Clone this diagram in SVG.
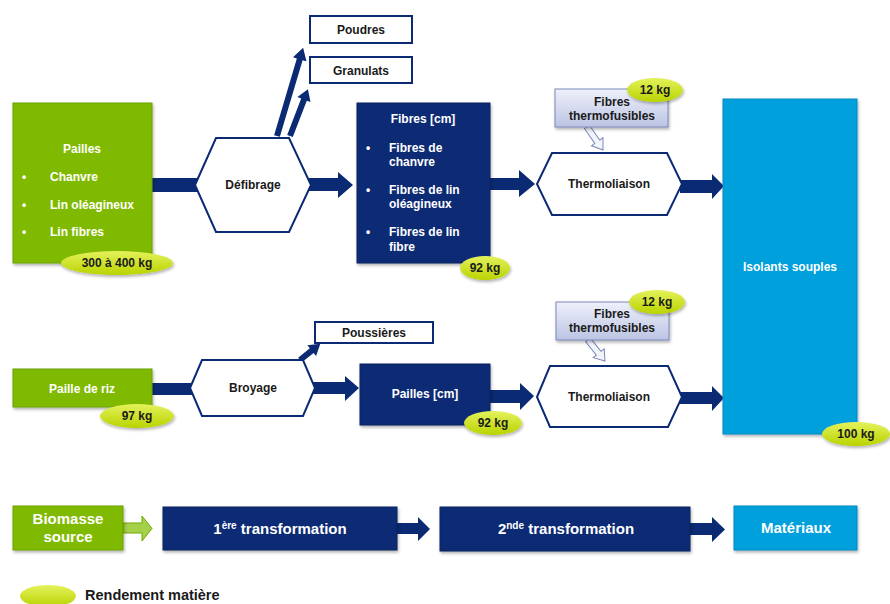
<svg xmlns="http://www.w3.org/2000/svg" width="890" height="604" viewBox="0 0 890 604">
<style>
text{font-family:"Liberation Sans",Arial,sans-serif;font-weight:bold}
.w{fill:#fff;font-size:12px}
.b{fill:#1a1a1a;font-size:12px}
.green{fill:#7fba00;stroke:#6aa000;stroke-width:1}
.navy{fill:#0b2a74;stroke:#08215e;stroke-width:1}
.sky{fill:#00a0dd;stroke:#0089c0;stroke-width:1}
.hex{fill:#fff;stroke:#0b2a74;stroke-width:2}
.out{fill:#fff;stroke:#0b2a74;stroke-width:2}
.arr{fill:#0b2a74}
.ell{fill:url(#eg)}
.tf{fill:url(#tg);stroke:#7b88b8;stroke-width:1}
.hol{fill:#f2f4fb;stroke:#7b88b8;stroke-width:1}
.big{font-size:15px}
</style>
<defs>
<linearGradient id="eg" x1="0" y1="0" x2="0" y2="1">
<stop offset="0" stop-color="#e4f25c"/>
<stop offset="1" stop-color="#b9d300"/>
</linearGradient>
<linearGradient id="tg" x1="0" y1="0" x2="0" y2="1">
<stop offset="0" stop-color="#eef0fa"/>
<stop offset="1" stop-color="#bcc4e4"/>
</linearGradient>
<filter id="sh" x="-10%" y="-10%" width="130%" height="140%">
<feDropShadow dx="1" dy="2" stdDeviation="1.5" flood-color="#000" flood-opacity="0.3"/>
</filter>
</defs>

<g id="connectors">
<rect class="arr" x="150" y="178" width="50" height="14"/>
<polygon class="arr" points="309,178 338,178 338,172 353,185 338,198 338,191 309,191"/>
<polygon class="arr" points="488,178 519,178 519,170 535,184 519,197 519,190 488,190"/>
<polygon class="arr" points="680,180 712,180 712,174 724,186 712,199 712,193 680,193"/>
<rect class="arr" x="150" y="383" width="45" height="12"/>
<polygon class="arr" points="313,382 345,382 345,376 359,388 345,401 345,394 313,394"/>
<polygon class="arr" points="488,390 520,390 520,383 534,396 520,410 520,403 488,403"/>
<polygon class="arr" points="680,392 712,392 712,386 724,398 712,411 712,404 680,404"/>
<g transform="translate(277,136) rotate(-73.5)"><polygon class="arr" points="0,-3 80,-3 80,-7 92,0 80,7 80,3 0,3"/></g>
<g transform="translate(290,136) rotate(-69)"><polygon class="arr" points="0,-3 39,-3 39,-7 50,0 39,7 39,3 0,3"/></g>
<g transform="translate(300,360) rotate(-38.7)"><polygon class="arr" points="0,-3 15,-3 15,-7 26,0 15,7 15,3 0,3"/></g>
<g transform="translate(587,127) rotate(55.2)"><polygon class="hol" points="0,-3 18,-3 18,-7 28,0 18,7 18,3 0,3"/></g>
<g transform="translate(588,340) rotate(51)"><polygon class="hol" points="0,-3 17,-3 17,-7 27,0 17,7 17,3 0,3"/></g>
<polygon fill="#a4d04a" stroke="#6fa800" stroke-width="1" points="123,523 142,523 142,516 152,528.5 142,541 142,533 123,533"/>
<polygon class="arr" points="396,523 418,523 418,517 430,529 418,541 418,534 396,534"/>
<polygon class="arr" points="689,523 712,523 712,517 725,529.5 712,542 712,535 689,535"/>
</g>

<g id="pailles">
<rect class="green" x="13" y="103" width="139" height="160" filter="url(#sh)"/>
<text class="w" x="82" y="153" text-anchor="middle">Pailles</text>
<text class="w" x="22" y="181">•</text><text class="w" x="50" y="181">Chanvre</text>
<text class="w" x="22" y="209">•</text><text class="w" x="50" y="209">Lin oléagineux</text>
<text class="w" x="22" y="236">•</text><text class="w" x="50" y="236">Lin fibres</text>
</g>
<g id="r300">
<ellipse class="ell" cx="117" cy="263" rx="56" ry="12" filter="url(#sh)"/>
<text class="b" x="117" y="267" text-anchor="middle">300 à 400 kg</text>
</g>

<g id="defibrage">
<polygon class="hex" points="195,185 216,138 289,138 311,185 289,232 216,232"/>
<text class="b" x="253" y="189" text-anchor="middle">Défibrage</text>
</g>
<g id="poudres">
<rect class="out" x="310" y="16" width="102" height="27"/>
<text class="b" x="361" y="34" text-anchor="middle">Poudres</text>
</g>
<g id="granulats">
<rect class="out" x="310" y="57" width="102" height="26"/>
<text class="b" x="361" y="75" text-anchor="middle">Granulats</text>
</g>

<g id="fibres">
<rect class="navy" x="357" y="103" width="133" height="160" filter="url(#sh)"/>
<text class="w" x="423" y="123" text-anchor="middle">Fibres [cm]</text>
<text class="w" x="366" y="152">•</text><text class="w" x="389" y="152">Fibres de</text>
<text class="w" x="389" y="166">chanvre</text>
<text class="w" x="366" y="194">•</text><text class="w" x="389" y="194">Fibres de lin</text>
<text class="w" x="389" y="208">oléagineux</text>
<text class="w" x="366" y="236">•</text><text class="w" x="389" y="236">Fibres de lin</text>
<text class="w" x="389" y="251">fibre</text>
</g>
<g id="r92a">
<ellipse class="ell" cx="485" cy="268" rx="25" ry="12" filter="url(#sh)"/>
<text class="b" x="485" y="272" text-anchor="middle">92 kg</text>
</g>

<g id="thermo1">
<polygon class="hex" points="537,184 552,153 667,153 682,184 667,215 552,215"/>
<text class="b" x="609" y="188" text-anchor="middle">Thermoliaison</text>
</g>
<g id="tf1">
<rect class="tf" x="555" y="89" width="113" height="38" filter="url(#sh)"/>
<text class="b" x="612" y="106" text-anchor="middle">Fibres</text>
<text class="b" x="612" y="120" text-anchor="middle">thermofusibles</text>
</g>
<g id="r12a">
<ellipse class="ell" cx="655" cy="90" rx="28" ry="12" filter="url(#sh)"/>
<text class="b" x="655" y="94" text-anchor="middle">12 kg</text>
</g>

<g id="isolants">
<rect class="sky" x="723" y="99" width="134" height="335" filter="url(#sh)"/>
<text class="w" x="790" y="271" text-anchor="middle">Isolants souples</text>
</g>
<g id="r100">
<ellipse class="ell" cx="856" cy="434" rx="34" ry="12" filter="url(#sh)"/>
<text class="b" x="856" y="438" text-anchor="middle">100 kg</text>
</g>

<g id="riz">
<rect class="green" x="13" y="369" width="139" height="38" filter="url(#sh)"/>
<text class="w" x="82" y="393" text-anchor="middle">Paille de riz</text>
</g>
<g id="r97">
<ellipse class="ell" cx="137" cy="416" rx="37" ry="12" filter="url(#sh)"/>
<text class="b" x="137" y="420" text-anchor="middle">97 kg</text>
</g>

<g id="broyage">
<polygon class="hex" points="190,388 202,360 303,360 315,388 303,416 202,416"/>
<text class="b" x="253" y="392" text-anchor="middle">Broyage</text>
</g>
<g id="poussieres">
<rect class="out" x="315" y="322" width="118" height="21"/>
<text class="b" x="374" y="337" text-anchor="middle">Poussières</text>
</g>

<g id="paillescm">
<rect class="navy" x="360" y="364" width="130" height="61" filter="url(#sh)"/>
<text class="w" x="425" y="398" text-anchor="middle">Pailles [cm]</text>
</g>
<g id="r92b">
<ellipse class="ell" cx="493" cy="423" rx="29" ry="12" filter="url(#sh)"/>
<text class="b" x="493" y="427" text-anchor="middle">92 kg</text>
</g>

<g id="thermo2">
<polygon class="hex" points="537,397 550,366 668,366 682,397 668,427 550,427"/>
<text class="b" x="609" y="401" text-anchor="middle">Thermoliaison</text>
</g>
<g id="tf2">
<rect class="tf" x="556" y="302" width="113" height="38" filter="url(#sh)"/>
<text class="b" x="612" y="318" text-anchor="middle">Fibres</text>
<text class="b" x="612" y="332" text-anchor="middle">thermofusibles</text>
</g>
<g id="r12b">
<ellipse class="ell" cx="657" cy="302" rx="28" ry="12" filter="url(#sh)"/>
<text class="b" x="657" y="306" text-anchor="middle">12 kg</text>
</g>

<g id="biomasse">
<rect class="green" x="13" y="506" width="110" height="44" filter="url(#sh)"/>
<text class="w big" x="68" y="524" text-anchor="middle">Biomasse</text>
<text class="w big" x="68" y="542" text-anchor="middle">source</text>
</g>
<g id="transfo1">
<rect class="navy" x="163" y="507" width="234" height="43" filter="url(#sh)"/>
<text class="w big" x="280" y="534" text-anchor="middle">1<tspan dy="-5" style="font-size:10px">ère</tspan><tspan dy="5"> transformation</tspan></text>
</g>
<g id="transfo2">
<rect class="navy" x="440" y="507" width="250" height="44" filter="url(#sh)"/>
<text class="w big" x="566" y="534" text-anchor="middle">2<tspan dy="-5" style="font-size:10px">nde</tspan><tspan dy="5"> transformation</tspan></text>
</g>
<g id="materiaux">
<rect class="sky" x="734" y="506" width="123" height="44" filter="url(#sh)"/>
<text class="w big" x="796" y="533" text-anchor="middle">Matériaux</text>
</g>

<g id="legend">
<ellipse class="ell" cx="48" cy="596" rx="28" ry="11"/>
<text class="b" x="85" y="600" style="font-size:14.5px">Rendement matière</text>
</g>
</svg>
